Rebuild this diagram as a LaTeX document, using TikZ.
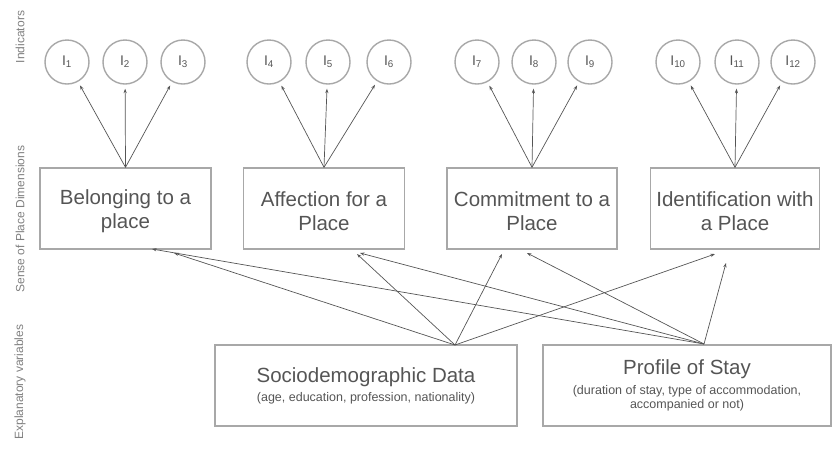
\documentclass[tikz,border=0pt]{standalone}
\usepackage{fontspec}
\setmainfont{Liberation Sans}
\usetikzlibrary{arrows.meta}
\definecolor{boxline}{HTML}{A8A8A8}
\definecolor{txt}{HTML}{555555}
\definecolor{arr}{HTML}{555555}
\definecolor{side}{HTML}{808080}
\newcommand{\toppad}{\rule{0pt}{21pt}}
\tikzset{
  ind/.style={circle, draw=boxline, line width=1.4pt, minimum size=44pt, inner sep=0pt,
    text=txt, font=\fontsize{14}{16}\selectfont},
  dimbox/.style={rectangle, draw=boxline, line width=1.4pt, minimum height=81pt,
    align=center, text=txt, font=\fontsize{20.5}{24}\selectfont},
  expbox/.style={dimbox, minimum height=81pt},
  sidelabel/.style={rotate=90, text=side, font=\fontsize{12}{14}\selectfont},
  conn/.style={draw=arr, line width=0.7pt, -{Stealth[length=4.5pt,width=3.2pt]}},
  up/.style={conn, shorten >=4pt}
}
\begin{document}
\begin{tikzpicture}[x=1pt,y=-1pt]
\useasboundingbox (0,0) rectangle (833,448);
% side labels
\node[sidelabel] (l1) at (20,37) {Indicators};
\node[sidelabel] (l2) at (20,219) {Sense of Place Dimensions};
\node[sidelabel] (l3) at (20,382) {Explanatory variables};
% indicators
\node[ind] (i1) at (67,62) {I\textsubscript{1}};
\node[ind] (i2) at (125,62) {I\textsubscript{2}};
\node[ind] (i3) at (183,62) {I\textsubscript{3}};
\node[ind] (i4) at (269,62) {I\textsubscript{4}};
\node[ind] (i5) at (328,62) {I\textsubscript{5}};
\node[ind] (i6) at (389,62) {I\textsubscript{6}};
\node[ind] (i7) at (477,62) {I\textsubscript{7}};
\node[ind] (i8) at (534,62) {I\textsubscript{8}};
\node[ind] (i9) at (590,62) {I\textsubscript{9}};
\node[ind] (i10) at (678,62) {I\textsubscript{10}};
\node[ind] (i11) at (737,62) {I\textsubscript{11}};
\node[ind] (i12) at (793,62) {I\textsubscript{12}};
% dimension boxes
\node[dimbox, minimum width=171pt] (b1) at (125.5,208.5) {\toppad Belonging to a\\place};
\node[dimbox, minimum width=161pt] (b2) at (324,208.5) {\toppad Affection for a\\Place};
\node[dimbox, minimum width=170pt] (b3) at (532,208.5) {\toppad Commitment to a\\Place};
\node[dimbox, minimum width=169pt] (b4) at (735,208.5) {\toppad Identification with\\a Place};
% explanatory boxes
\node[expbox, minimum width=302pt] (sd) at (366,385.5)
  {Sociodemographic Data\\[-5pt]{\fontsize{12.5}{14}\selectfont (age, education, profession, nationality)}};
\node[expbox, minimum width=288pt] (ps) at (687,385.5)
  {Profile of Stay\\[-4pt]{\fontsize{12.5}{14}\selectfont (duration of stay, type of accommodation,}\\[-10pt]{\fontsize{12.5}{14}\selectfont accompanied or not)}};
% arrows to indicators
\foreach \b/\i in {b1/i1,b1/i2,b1/i3,b2/i4,b2/i5,b2/i6,b3/i7,b3/i8,b3/i9,b4/i10,b4/i11,b4/i12}
  \draw[up] (\b.north) -- (\i);
% explanatory arrows
\coordinate (s) at (455,345);
\coordinate (p) at (704,344);
\coordinate (t1p) at (152,249);
\coordinate (t1s) at (174,253);
\coordinate (t2s) at (357,254);
\coordinate (t2p) at (360,253);
\coordinate (t3s) at (502,254);
\coordinate (t3p) at (527,253);
\coordinate (t4s) at (715,254);
\coordinate (t4p) at (726,263);
\foreach \t in {t1s,t2s,t3s,t4s} \draw[conn] (s) -- (\t);
\foreach \t in {t1p,t2p,t3p,t4p} \draw[conn] (p) -- (\t);
\end{tikzpicture}
\end{document}
